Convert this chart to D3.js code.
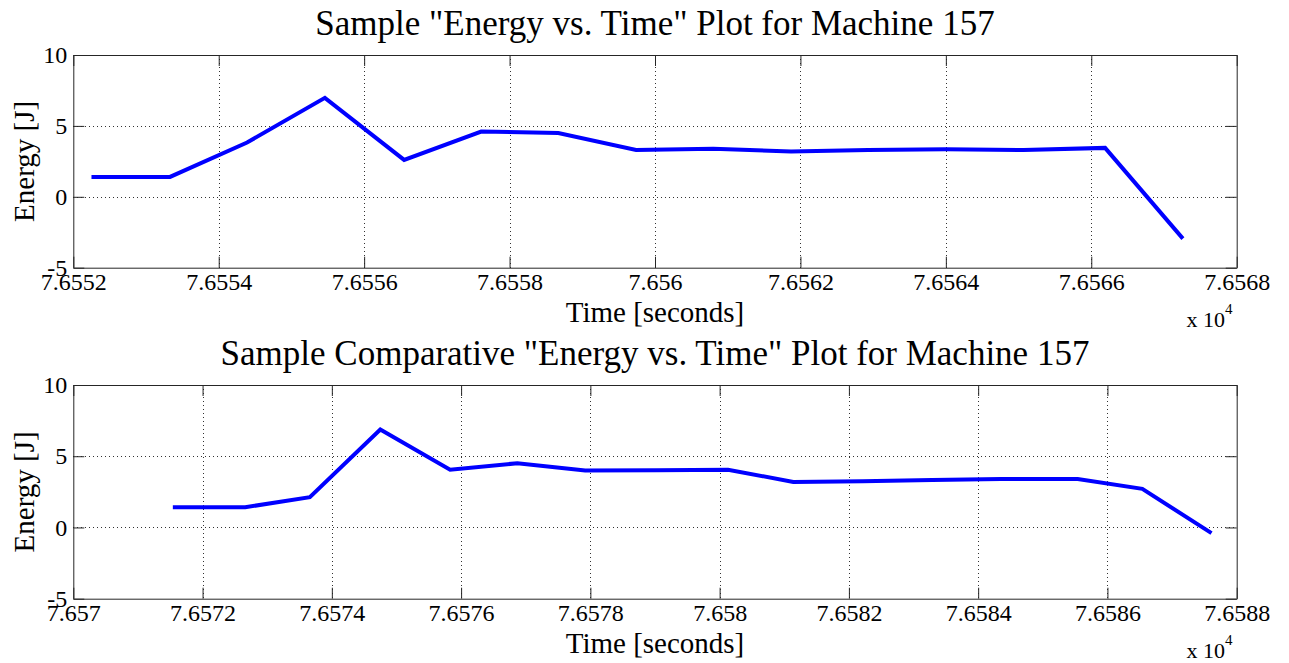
<!DOCTYPE html>
<html>
<head>
<meta charset="utf-8">
<script src="https://d3js.org/d3.v7.min.js"></script>
<style>
  html, body { margin: 0; padding: 0; background: #fff; }
  svg { display: block; }
  text { font-family: "Liberation Serif", "Times New Roman", serif; fill: #000; }
</style>
</head>
<body>
<svg id="chart" width="1289" height="663"></svg>
<script>
// ---------- data ----------
const topTime = [76552.25, 76553.33, 76554.39, 76555.46, 76556.55, 76557.61, 76558.67, 76559.74,
                 76560.80, 76561.87, 76562.93, 76564.00, 76565.07, 76566.19, 76567.26];
const topEnergy = [1.4, 1.4, 3.83, 6.98, 2.6, 4.6, 4.5, 3.3, 3.38, 3.2, 3.3, 3.35, 3.3, 3.45, -2.95];

const botTime = [76571.54, 76572.66, 76573.66, 76574.75, 76575.83, 76576.87, 76577.92, 76579.03,
                 76580.13, 76581.14, 76582.21, 76583.29, 76584.35, 76585.54, 76586.54, 76587.61];
const botEnergy = [1.42, 1.42, 2.13, 6.88, 4.05, 4.51, 4.0, 4.02, 4.05, 3.2, 3.25, 3.33, 3.4, 3.4, 2.71, -0.4];

const topXTicks = [76552, 76554, 76556, 76558, 76560, 76562, 76564, 76566, 76568];
const topXLabels = ["7.6552", "7.6554", "7.6556", "7.6558", "7.656", "7.6562", "7.6564", "7.6566", "7.6568"];
const botXTicks = [76570, 76572, 76574, 76576, 76578, 76580, 76582, 76584, 76586, 76588];
const botXLabels = ["7.657", "7.6572", "7.6574", "7.6576", "7.6578", "7.658", "7.6582", "7.6584", "7.6586", "7.6588"];
const yTicks = [-5, 0, 5, 10];
const yLabels = ["-5", "0", "5", "10"];

const titles = ["Sample \"Energy vs. Time\" Plot for Machine 157",
                "Sample Comparative \"Energy vs. Time\" Plot for Machine 157"];
const xLabel = "Time [seconds]";
const yLabel = "Energy [J]";

// ---------- layout ----------
const svg = d3.select("#chart");
const L = 73.3, R = 1236.7;
const panels = [
  { top: 55, bottom: 267.7, time: topTime, energy: topEnergy, xt: topXTicks, xl: topXLabels,
    xdom: [76552, 76568], title: titles[0] },
  { top: 385, bottom: 598.7, time: botTime, energy: botEnergy, xt: botXTicks, xl: botXLabels,
    xdom: [76570, 76588], title: titles[1] }
];
const TICK = 11;

panels.forEach(p => {
  const x = d3.scaleLinear().domain(p.xdom).range([L, R]);
  const y = d3.scaleLinear().domain([-5, 10]).range([p.bottom, p.top]);
  const g = svg.append("g");

  // grid
  const grid = g.append("g").attr("stroke", "#000").attr("stroke-width", 1)
    .attr("stroke-dasharray", "1,3").attr("shape-rendering", "crispEdges").attr("opacity", 0.8);
  grid.selectAll("line.vx").data(p.xt.slice(1, -1)).join("line")
    .attr("x1", d => Math.round(x(d)) + 0.5).attr("x2", d => Math.round(x(d)) + 0.5)
    .attr("y1", p.top).attr("y2", p.bottom);
  grid.selectAll("line.hy").data(yTicks.slice(1, -1)).join("line").attr("class", "hy")
    .attr("y1", d => Math.round(y(d)) + 0.5).attr("y2", d => Math.round(y(d)) + 0.5)
    .attr("x1", L).attr("x2", R);

  // axes
  const xb = g.append("g").attr("transform", `translate(0,${p.bottom})`)
    .call(d3.axisBottom(x).tickValues(p.xt).tickFormat((d, i) => p.xl[i]).tickSize(-TICK).tickSizeOuter(0));
  const xt = g.append("g").attr("transform", `translate(0,${p.top})`)
    .call(d3.axisTop(x).tickValues(p.xt).tickFormat("").tickSize(-TICK).tickSizeOuter(0));
  const yl = g.append("g").attr("transform", `translate(${L},0)`)
    .call(d3.axisLeft(y).tickValues(yTicks).tickFormat((d, i) => yLabels[i]).tickSize(-TICK).tickSizeOuter(0).tickPadding(6));
  const yr = g.append("g").attr("transform", `translate(${R},0)`)
    .call(d3.axisRight(y).tickValues(yTicks).tickFormat("").tickSize(-TICK).tickSizeOuter(0));

  [xb, xt, yl, yr].forEach(a => {
    a.select(".domain").attr("stroke", "#262626");
    a.selectAll(".tick line").attr("stroke", "#262626");
    a.selectAll("text").style("font-family", '"Liberation Serif", serif').style("font-size", "24px").attr("fill", "#000");
  });
  xb.selectAll("text").attr("y", 22).attr("dy", 0);

  // line
  const pts = p.time.map((t, i) => [t, p.energy[i]]);
  g.append("path").datum(pts)
    .attr("fill", "none").attr("stroke", "#0000ff").attr("stroke-width", 4)
    .attr("stroke-linejoin", "miter")
    .attr("d", d3.line().x(d => x(d[0])).y(d => y(d[1])));

  // labels
  g.append("text").attr("x", (L + R) / 2).attr("y", p.top - 20).attr("text-anchor", "middle")
    .style("font-size", "35px").text(p.title);
  g.append("text").attr("x", (L + R) / 2).attr("y", p.bottom + 54.6).attr("text-anchor", "middle")
    .style("font-size", "29px").text(xLabel);
  g.append("text").attr("transform", `translate(34,${(p.top + p.bottom) / 2}) rotate(-90)`)
    .attr("text-anchor", "middle").style("font-size", "29px").text(yLabel);
  const ex = g.append("text").attr("x", 1186.5).attr("y", p.bottom + 59).style("font-size", "22px");
  ex.append("tspan").text("x 10");
  ex.append("tspan").attr("dy", -13).style("font-size", "15px").text("4");
});
</script>
</body>
</html>
